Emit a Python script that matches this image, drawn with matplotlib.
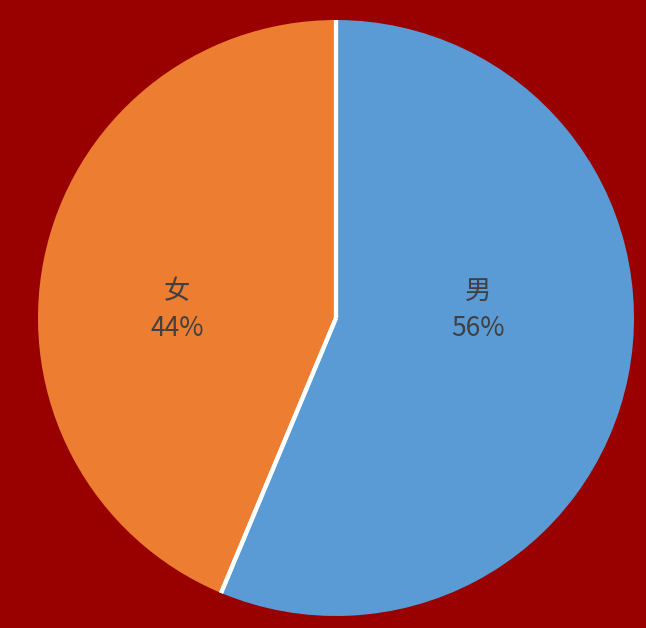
import numpy as np
import matplotlib.pyplot as plt

plt.rcParams['font.family'] = ['Noto Sans CJK SC', 'DejaVu Sans']

# data
labels = ['男', '女']
shares = [56.3, 43.7]
colors = ['#5B9BD5', '#ED7D31']
bg = '#990000'

fig = plt.figure(figsize=(6.46, 6.28), dpi=100, facecolor=bg)
r_px = 298
cx, cy = 336, 318
ax = fig.add_axes([(cx - r_px) / 646, (628 - cy - r_px) / 628, 2 * r_px / 646, 2 * r_px / 628])
ax.set_facecolor(bg)

wedges, texts = ax.pie(
    shares, colors=colors, startangle=90, counterclock=False,
    wedgeprops=dict(linewidth=0))

# white separators between slices
for w in wedges:
    for ang in (w.theta1, w.theta2):
        a = np.deg2rad(ang)
        ax.plot([0, np.cos(a)], [0, np.sin(a)], color='white', lw=3,
                solid_capstyle='butt', zorder=5)

# label positions (as in the reference, roughly)
label_pos = [(0.478, 0.027), (-0.532, 0.027)]
for lab, s, (x, y) in zip(labels, shares, label_pos):
    ax.text(x, y, f'{lab}\n{round(s)}%', ha='center', va='center', fontsize=19,
            color='#404040', linespacing=1.45, zorder=6)

ax.set_xlim(-1, 1)
ax.set_ylim(-1, 1)
ax.set_aspect('auto')
ax.axis('off')

plt.savefig('out.png', dpi=100, facecolor=bg)
